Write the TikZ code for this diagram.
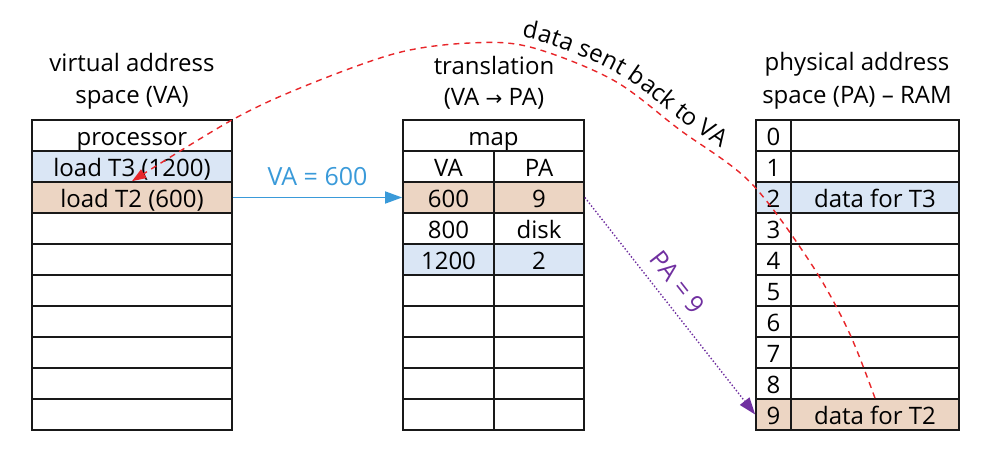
\documentclass[tikz,border=0pt]{standalone}
\usepackage{fontspec}
\setmainfont{Open Sans}
\newfontfamily\arrowfont{DejaVu Sans}
\usetikzlibrary{arrows.meta,decorations.text}
\definecolor{rowblue}{HTML}{DAE6F5}
\definecolor{rowtan}{HTML}{ECD5C3}
\definecolor{vablue}{HTML}{3A9AD9}
\definecolor{papurple}{HTML}{7030A0}
\definecolor{backred}{HTML}{E8262A}
\begin{document}
\begin{tikzpicture}[x=1pt,y=-1pt,
  font=\fontsize{24}{28}\selectfont,
  cell/.style={draw=black!90, line width=1.7pt, minimum height=31pt, inner sep=0pt,
    text height=20pt, text depth=0pt, anchor=center},
  lcell/.style={cell, minimum width=200pt},
  mcell/.style={cell, minimum width=181pt},
  macell/.style={cell, minimum width=91pt},
  mbcell/.style={cell, minimum width=90pt},
  racell/.style={cell, minimum width=35pt},
  rbcell/.style={cell, minimum width=168pt},
  title/.style={anchor=base, inner sep=0pt},
  lbl/.style={inner sep=0pt, text depth=0pt, font=\fontsize{25}{28}\selectfont},
  tipA/.style={-{Triangle[length=17pt,width=12pt]}}
]
\useasboundingbox (0,0) rectangle (986,452);

% titles
\node[title] (tVA1) at (132,72) {virtual address};
\node[title] (tVA2) at (132,103) {space (VA)};
\node[title] (tTR1) at (494,75) {translation};
\node[title] (tTR2) at (494,106) {(VA {\arrowfont\fontsize{20}{22}\selectfont →} PA)};
\node[title] (tPA1) at (857,71) {physical address};
\node[title] (tPA2) at (857,103) {space (PA) – RAM};

% left table
\foreach \i/\t/\f in {0/processor/white,1/load T3 (1200)/rowblue,2/load T2 (600)/rowtan,
  3//white,4//white,5//white,6//white,7//white,8//white,9//white}
  \node[lcell, fill=\f] (L\i) at (132,{135.5+31*\i}) {\t};

% middle table
\node[mcell] (M0) at (493.5,135.5) {map};
\foreach \i/\a/\b/\f in {1/VA/PA/white,2/600/9/rowtan,3/800/disk/white,4/1200/2/rowblue,
  5///white,6///white,7///white,8///white,9///white}{
  \node[macell, fill=\f] (Ma\i) at (448.5,{135.5+31*\i}) {\a};
  \node[mbcell, fill=\f] (Mb\i) at (539,{135.5+31*\i}) {\b};
}

% right table
\foreach \i/\t/\f in {0//white,1//white,2/data for T3/rowblue,3//white,4//white,
  5//white,6//white,7//white,8//white,9/data for T2/rowtan}{
  \node[racell, fill=\f] (Ra\i) at (773.5,{135.5+31*\i}) {\i};
  \node[rbcell, fill=\f] (Rb\i) at (875,{135.5+31*\i}) {\t};
}

% VA arrow
\draw[vablue, line width=1.6pt, tipA] (L2.east) --
  node[lbl, above=11pt, text=vablue] (lVA) {VA = 600} (Ma2.west);

% PA arrow
\draw[papurple, line width=1.4pt, dotted, tipA] (Mb2.east) --
  node[lbl, pos=0.45, sloped, above=11pt, text=papurple] (lPA) {PA = 9} (Ra9.west);

% red return curve
\draw[backred, line width=1.4pt, dash pattern=on 6pt off 5pt,
  -{Triangle[length=14pt,width=10pt]}]
  plot[smooth, tension=0.55] coordinates {(Rb9.north) (848,330) (810,262) (750,182) (680,130)
    (613,80) (530,47) (470,43) (397,53) (305,86) (232,120) (L2.north)};

\path[decorate, decoration={text along path,
    text={|\fontsize{24}{28}\selectfont|data sent back to VA},
    raise=8pt, text align={left indent=50pt}}]
  plot[smooth, tension=0.55] coordinates {(470,43) (530,47) (613,80) (680,130) (750,182) (810,262)};
\end{tikzpicture}
\end{document}
